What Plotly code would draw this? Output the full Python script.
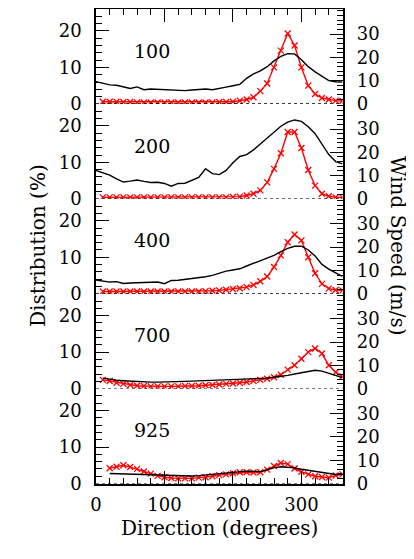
import plotly.graph_objects as go

# wind direction bins (degrees)
direction = list(range(0, 370, 10))
levels = ['100', '200', '400', '700', '925']

# wind speed (m/s) - black lines, right axis
speed_100 = [9.6, 9.0, 8.2, 8.0, 7.4, 6.6, 7.3, 6.1, 6.4, 6.3, 6.1, 6.0, 5.8, 5.7, 6.0, 6.3, 6.4, 6.1, 6.5,
             7.2, 7.8, 8.4, 11.0, 12.9, 14.2, 16.0, 18.5, 20.4, 21.6, 21.5, 19.0, 16.0, 13.8, 11.8, 10.0, 9.5, 9.4]
speed_200 = [12.2, 11.3, 10.2, 8.6, 7.2, 7.6, 8.1, 7.5, 7.0, 7.1, 6.6, 5.4, 6.6, 6.7, 7.8, 9.2, 12.9, 10.8, 10.4,
             12.2, 15.5, 18.2, 19.0, 21.0, 23.6, 26.2, 28.6, 31.2, 33.0, 33.9, 33.3, 31.0, 28.0, 23.6, 19.0, 16.0, 15.0]
speed_400 = [5.9, 5.4, 5.0, 5.2, 4.4, 4.6, 4.7, 4.8, 4.9, 5.0, 4.3, 5.7, 5.8, 6.1, 6.4, 6.8, 7.3, 7.9, 8.8,
             9.7, 10.2, 10.7, 11.9, 13.0, 14.0, 15.1, 16.5, 18.1, 19.5, 20.4, 20.4, 18.8, 16.2, 12.6, 10.6, 9.0, 7.4]
speed_700 = [None, 4.5, 4.0, 3.6, 3.4, 3.2, 3.0, 2.9, 2.8, 2.8, 2.8, 3.0, 3.0, 3.1, 3.2, 3.3, 3.4, 3.5, 3.6,
             3.7, 3.9, 4.0, 4.1, 4.2, 4.4, 4.5, 4.9, 5.2, 5.7, 6.3, 6.9, 7.5, 7.9, 7.5, 6.6, 5.6, 4.7]
speed_925 = [None, None, 4.3, 4.2, 4.1, 4.0, 3.9, 3.7, 3.6, 3.4, 3.3, 3.2, 3.1, 3.1, 3.2, 3.4, 3.7, 4.0, 4.3,
             4.6, 4.9, 5.2, 5.3, 5.2, 5.1, 5.9, 6.8, 7.2, 7.1, 6.7, 6.1, 5.6, 5.2, 4.8, 4.3, 3.9, 4.3]

# distribution (%) - red crosses, left axis
dist_100 = [None, 0.6, 0.6, 0.6, 0.5, 0.5, 0.4, 0.4, 0.4, 0.4, 0.4, 0.4, 0.4, 0.4, 0.4, 0.4, 0.4, 0.4, 0.5,
            0.5, 0.6, 0.9, 1.2, 1.8, 3.5, 5.6, 10.0, 14.6, 19.3, 16.0, 10.0, 5.0, 2.7, 1.6, 1.2, 0.9, 0.8]
dist_200 = [None, 0.4, 0.4, 0.4, 0.4, 0.4, 0.4, 0.4, 0.4, 0.4, 0.4, 0.4, 0.4, 0.4, 0.4, 0.4, 0.4, 0.4, 0.4,
            0.4, 0.5, 0.6, 0.9, 1.4, 2.3, 4.5, 8.2, 12.5, 18.3, 18.3, 13.9, 7.9, 3.6, 1.4, 0.7, 0.4, 0.4]
dist_400 = [None, 0.6, 0.6, 0.6, 0.6, 0.6, 0.6, 0.6, 0.6, 0.6, 0.6, 0.6, 0.6, 0.6, 0.6, 0.6, 0.7, 0.8, 0.9,
            1.1, 1.3, 1.5, 1.8, 2.4, 3.4, 4.7, 7.3, 10.5, 14.1, 16.2, 14.6, 10.0, 5.6, 2.7, 1.4, 1.0, 0.9]
dist_700 = [None, 2.4, 2.1, 1.6, 1.3, 1.0, 0.8, 0.7, 0.6, 0.6, 0.6, 0.6, 0.6, 0.7, 0.7, 0.8, 0.9, 1.0, 1.1,
            1.3, 1.4, 1.6, 1.8, 2.1, 2.4, 2.7, 3.1, 3.8, 5.2, 6.4, 8.2, 10.0, 11.0, 9.6, 6.4, 4.5, 3.3]
dist_925 = [None, None, 4.2, 4.6, 5.0, 4.5, 4.0, 3.3, 2.7, 2.1, 1.7, 1.5, 1.4, 1.4, 1.4, 1.6, 1.7, 2.0, 2.3,
            2.5, 2.8, 3.1, 3.1, 3.0, 3.1, 3.8, 4.8, 5.6, 5.3, 4.1, 3.2, 2.5, 2.0, 1.8, 1.6, 2.2, 2.5]

speeds = [speed_100, speed_200, speed_400, speed_700, speed_925]
dists = [dist_100, dist_200, dist_400, dist_700, dist_925]

# the page body has an 8px margin, so the figure is drawn 8px smaller and positions shifted
OFF = 8
W, H = 414 - OFF, 559 - OFF
x0px, x1px = 96 - OFF, 342.5 - OFF
top0, ph = 9.0 - OFF, 94.9
font = 'DejaVu Serif'
tickfont = dict(family=font, size=18, color='black')
titlefont = dict(family=font, size=20, color='black')

fig = go.Figure()
layout = {}
shapes = []
annotations = []

for k in range(5):
    i = k + 1
    xa = 'x' if i == 1 else f'x{i}'
    yl = 'y' if i == 1 else f'y{2*i-1}'
    yr = f'y{2*i}'
    top = top0 + k * ph
    bot = top + ph
    dom = [1 - bot / H, 1 - top / H]

    fig.add_trace(go.Scatter(x=direction, y=speeds[k], xaxis=xa, yaxis=yr, mode='lines',
                             line=dict(color='black', width=1.4), showlegend=False))
    fig.add_trace(go.Scatter(x=direction, y=dists[k], xaxis=xa, yaxis=yl, mode='lines+markers',
                             line=dict(color='red', width=1.4),
                             marker=dict(symbol='x-thin', size=6, color='red', line=dict(color='red', width=1.3)),
                             showlegend=False))

    xax = dict(domain=[x0px / W, x1px / W], range=[0, 360], anchor=yl, showgrid=False, zeroline=False,
               showticklabels=False, ticks='', automargin=False)
    if i == 1 or i == 5:
        xax.update(showline=True, linecolor='black', linewidth=1.5, ticks='inside', ticklen=13, tickwidth=1.2,
                   tickcolor='black', tick0=0, dtick=100,
                   minor=dict(ticks='inside', dtick=20, ticklen=6, tickwidth=1.2, tickcolor='black', showgrid=False))
        if i == 1:
            xax['side'] = 'top'
        else:
            xax.update(showticklabels=True, tickfont=tickfont, ticklabelstandoff=4)
    layout['xaxis' if i == 1 else f'xaxis{i}'] = xax

    yticks = dict(showline=True, linecolor='black', linewidth=1.5, ticks='inside', ticklen=13, tickwidth=1.2,
                  tickcolor='black', showgrid=False, zeroline=False, tickfont=tickfont,
                  ticklabelstandoff=9, automargin=False,
                  minor=dict(ticks='inside', tickmode='linear', tick0=0, dtick=2, ticklen=6, tickwidth=1.2,
                             tickcolor='black', showgrid=False))
    layout['yaxis' if i == 1 else f'yaxis{2*i-1}'] = dict(domain=dom, range=[0, 26], anchor=xa,
                                                           tickmode='array', tickvals=[0, 10, 20], **yticks)
    layout[f'yaxis{2*i}'] = dict(domain=dom, range=[0, 40.8], anchor=xa, overlaying=yl, side='right',
                                 tickmode='array', tickvals=[0, 10, 20, 30], **yticks)

    shapes.append(dict(type='line', xref=f'{xa} domain', yref=yl, x0=0, x1=1, y0=0, y1=0,
                       line=dict(color='black', width=1.2, dash='dot')))
    annotations.append(dict(text=levels[k], x=82, y=14.6, xref=xa, yref=yl, showarrow=False,
                            xanchor='center', yanchor='middle',
                            font=dict(family=font, size=19, color='black')))

annotations += [
    dict(text='Distribution (%)', x=(38 - OFF) / W, y=1 - (246 - OFF) / H, xref='paper', yref='paper',
         showarrow=False, xanchor='center', yanchor='middle', textangle=-90, font=titlefont),
    dict(text='Wind Speed (m/s)', x=(398 - OFF) / W, y=1 - (246 - OFF) / H, xref='paper', yref='paper',
         showarrow=False, xanchor='center', yanchor='middle', textangle=90, font=titlefont),
    dict(text='Direction (degrees)', x=(219 - OFF) / W, y=1 - (528 - OFF) / H, xref='paper', yref='paper',
         showarrow=False, xanchor='center', yanchor='middle', font=titlefont),
]

fig.update_layout(width=W, height=H, margin=dict(l=0, r=0, t=0, b=0), paper_bgcolor='white',
                  plot_bgcolor='white', showlegend=False, shapes=shapes, annotations=annotations, **layout)

fig.write_html("out.html")
